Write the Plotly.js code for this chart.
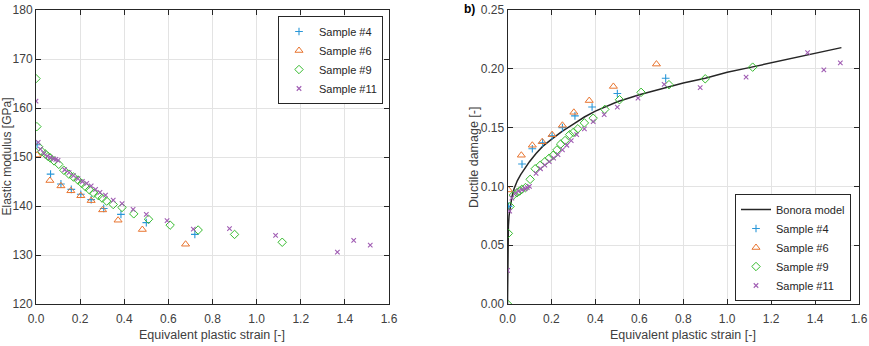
<!DOCTYPE html>
<html><head><meta charset="utf-8">
<script src="https://cdn.plot.ly/plotly-3.0.1.min.js"></script>
<style>body{margin:0;background:#fff}#chart{width:869px;height:346px}</style>
</head><body><div id="chart"></div>
<script>
// ---- data ----
const strain4   = [0.005, 0.066, 0.113, 0.160, 0.203, 0.250, 0.307, 0.385, 0.500, 0.720];
const modulus4  = [152.5, 146.5, 144.5, 143.4, 142.4, 141.3, 139.5, 138.3, 136.6, 134.2];
const damage4   = [0.083, 0.119, 0.132, 0.137, 0.143, 0.150, 0.160, 0.1675, 0.179, 0.192];

const strain6   = [0.005, 0.063, 0.113, 0.158, 0.203, 0.250, 0.302, 0.372, 0.482, 0.678];
const modulus6  = [150.4, 145.2, 144.1, 143.1, 142.1, 141.1, 139.2, 137.1, 135.2, 132.2];
const damage6   = [0.097, 0.1265, 0.135, 0.138, 0.144, 0.152, 0.163, 0.173, 0.185, 0.204];

const strain9   = [0.0, 0.004, 0.012, 0.027, 0.043, 0.055, 0.065, 0.082, 0.103, 0.126, 0.149, 0.170, 0.190, 0.208, 0.225, 0.242, 0.262, 0.283, 0.300, 0.320, 0.350, 0.390, 0.443, 0.510, 0.608, 0.735, 0.900, 1.116];
const modulus9  = [166.0, 156.2, 152.1, 151.1, 150.6, 150.1, 149.8, 149.2, 148.5, 147.3, 146.5, 145.9, 145.3, 144.6, 143.9, 143.3, 142.6, 142.1, 141.6, 141.0, 140.3, 139.7, 138.4, 137.3, 136.1, 135.1, 134.2, 132.6];
const damage9   = [0.000, 0.060, 0.083, 0.0926, 0.0946, 0.096, 0.0975, 0.099, 0.106, 0.115, 0.118, 0.121, 0.124, 0.1265, 0.131, 0.136, 0.139, 0.144, 0.146, 0.149, 0.154, 0.158, 0.1655, 0.1737, 0.180, 0.1865, 0.1915, 0.2014];

const strain11  = [0.0, 0.010, 0.020, 0.035, 0.050, 0.065, 0.080, 0.090, 0.100, 0.130, 0.150, 0.170, 0.190, 0.210, 0.230, 0.250, 0.270, 0.290, 0.315, 0.350, 0.390, 0.440, 0.500, 0.594, 0.713, 0.877, 1.086, 1.366, 1.440, 1.515];
const modulus11 = [161.4, 153.0, 151.6, 150.8, 150.2, 149.9, 149.6, 149.5, 149.3, 147.4, 146.8, 146.2, 145.6, 145.0, 144.6, 144.1, 143.4, 142.8, 142.2, 141.2, 140.5, 139.3, 138.3, 137.0, 135.3, 135.4, 134.0, 130.6, 133.0, 132.0];
const damage11  = [0.0285, 0.079, 0.090, 0.094, 0.096, 0.097, 0.098, 0.099, 0.100, 0.111, 0.115, 0.118, 0.121, 0.124, 0.127, 0.131, 0.135, 0.139, 0.144, 0.149, 0.155, 0.161, 0.1675, 0.175, 0.1867, 0.184, 0.193, 0.2138, 0.199, 0.205];

const modelStrain = [0.0, 0.0003, 0.001, 0.002, 0.004, 0.007, 0.012, 0.02, 0.03, 0.045, 0.06, 0.08, 0.10, 0.13, 0.16, 0.20, 0.25, 0.30, 0.35, 0.40, 0.50, 0.60, 0.70, 0.80, 0.90, 1.00, 1.10, 1.20, 1.30, 1.40, 1.52];
const modelDamage = [0.0, 0.030, 0.045, 0.055, 0.066, 0.075, 0.083, 0.091, 0.098, 0.105, 0.110, 0.116, 0.121, 0.128, 0.134, 0.140, 0.147, 0.153, 0.159, 0.164, 0.172, 0.178, 0.183, 0.188, 0.192, 0.197, 0.201, 0.205, 0.209, 0.213, 0.218];

const names = ['Sample #4', 'Sample #6', 'Sample #9', 'Sample #11'];

// ---- styles ----
const C4 = '#2a97d8', C6 = '#e8742f', C9 = '#36bb2e', C11 = '#a05cb3';
const m4  = {symbol: 'cross-thin-open', size: 5.5, color: C4, line: {color: C4, width: 1.1}};
const m6  = {symbol: 'triangle-up-open', size: 7, color: C6, line: {color: C6, width: 1}};
const m9  = {symbol: 'diamond-open', size: 6.5, color: C9, line: {color: C9, width: 1}};
const m11 = {symbol: 'x-thin-open', size: 4.5, color: C11, line: {color: C11, width: 1.1}};

const traces = [
  {x: strain4,  y: modulus4,  name: names[0], mode: 'markers', marker: m4,  xaxis: 'x',  yaxis: 'y',  legend: 'legend'},
  {x: strain6,  y: modulus6,  name: names[1], mode: 'markers', marker: m6,  xaxis: 'x',  yaxis: 'y',  legend: 'legend'},
  {x: strain9,  y: modulus9,  name: names[2], mode: 'markers', marker: m9,  xaxis: 'x',  yaxis: 'y',  legend: 'legend'},
  {x: strain11, y: modulus11, name: names[3], mode: 'markers', marker: m11, xaxis: 'x',  yaxis: 'y',  legend: 'legend'},
  {x: modelStrain, y: modelDamage, name: 'Bonora model', mode: 'lines', line: {color: '#262626', width: 1.5}, xaxis: 'x2', yaxis: 'y2', legend: 'legend2'},
  {x: strain4,  y: damage4,  name: names[0], mode: 'markers', marker: m4,  xaxis: 'x2', yaxis: 'y2', legend: 'legend2'},
  {x: strain6,  y: damage6,  name: names[1], mode: 'markers', marker: m6,  xaxis: 'x2', yaxis: 'y2', legend: 'legend2'},
  {x: strain9,  y: damage9,  name: names[2], mode: 'markers', marker: m9,  xaxis: 'x2', yaxis: 'y2', legend: 'legend2'},
  {x: strain11, y: damage11, name: names[3], mode: 'markers', marker: m11, xaxis: 'x2', yaxis: 'y2', legend: 'legend2'}
];

const W = 869, H = 346;
const px = v => v / W, py = v => 1 - v / H;
const FONT = 'Liberation Sans, Arial, Helvetica, sans-serif';
const TC = '#404040';

const axisCommon = {
  showline: true, linecolor: '#262626', linewidth: 1, mirror: 'ticks',
  ticks: 'inside', ticklen: 5, tickcolor: '#262626', tickwidth: 1,
  showgrid: true, gridcolor: '#e3e3e3', gridwidth: 1, zeroline: false,
  tickfont: {family: FONT, size: 12, color: TC}, fixedrange: true
};
const xCommon = Object.assign({}, axisCommon, {range: [0, 1.6], dtick: 0.2, tick0: 0, tickformat: '.1f', ticklabelstandoff: 4});

const legendCommon = {bgcolor: '#fff', bordercolor: '#262626', borderwidth: 1,
  font: {family: FONT, size: 11, color: '#262626'}, tracegroupgap: 0, itemwidth: 30};

const ann = (text, x, y, extra) => Object.assign({text: text, xref: 'paper', yref: 'paper', x: px(x), y: py(y),
  xanchor: 'center', yanchor: 'middle', showarrow: false, font: {family: FONT, size: 12.5, color: TC}}, extra || {});

const layout = {
  width: W, height: H,
  margin: {l: 0, r: 0, t: 0, b: 0},
  paper_bgcolor: '#fff', plot_bgcolor: '#fff',
  font: {family: FONT, size: 12, color: TC},
  showlegend: true,
  xaxis: Object.assign({}, xCommon, {domain: [px(36), px(389)], anchor: 'y'}),
  yaxis: Object.assign({}, axisCommon, {domain: [py(304), py(10)], range: [120, 180], dtick: 10, tick0: 120, anchor: 'x'}),
  xaxis2: Object.assign({}, xCommon, {domain: [px(507.5), px(859)], anchor: 'y2'}),
  yaxis2: Object.assign({}, axisCommon, {domain: [py(304), py(10)], range: [0, 0.25], dtick: 0.05, tick0: 0, tickformat: '.2f', anchor: 'x2'}),
  legend: Object.assign({}, legendCommon, {x: px(383), y: py(16), xanchor: 'right', yanchor: 'top'}),
  legend2: Object.assign({}, legendCommon, {x: px(851), y: py(301), xanchor: 'right', yanchor: 'bottom'}),
  annotations: [
    ann('Equivalent plastic strain [-]', 212, 335),
    ann('Equivalent plastic strain [-]', 683, 335),
    ann('Elastic modulus [GPa]', 6.5, 157, {textangle: -90, font: {family: FONT, size: 12, color: TC}}),
    ann('Ductile damage [-]', 474, 157, {textangle: -90}),
    ann('<b>b)</b>', 470, 9, {font: {family: FONT, size: 12, color: '#000'}})
  ]
};

Plotly.newPlot('chart', traces, layout, {staticPlot: true, displayModeBar: false});
</script>
</body></html>
